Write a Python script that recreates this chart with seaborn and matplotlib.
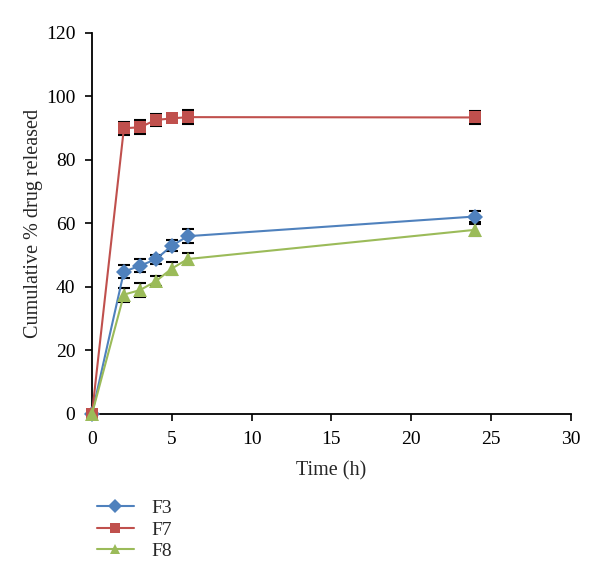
import numpy as np
import pandas as pd
import matplotlib
matplotlib.use("Agg")
import matplotlib.pyplot as plt
import seaborn as sns

# --- Data ---
TIME_H = [0, 2, 3, 4, 5, 6, 24]
F3 = [0, 44.8, 46.7, 48.7, 53.0, 56.0, 62.2]
F7 = [0, 90.0, 90.3, 92.6, 93.1, 93.5, 93.4]
F8 = [0, 37.6, 39.0, 41.8, 45.8, 48.8, 58.0]
F3_ERR = [0, 2.0, 2.0, 1.5, 1.8, 2.2, 1.8]
F7_ERR = [0, 2.0, 2.2, 1.8, 0.6, 2.2, 2.0]
F8_ERR = [0, 2.2, 2.2, 1.6, 2.0, 1.8, 1.8]

SERIES = ["F3", "F7", "F8"]
COLORS = {"F3": "#4F81BD", "F7": "#C0504D", "F8": "#9BBB59"}
MARKERS = {"F3": "D", "F7": "s", "F8": "^"}
MARKER_SIZES = {"F3": 8.5, "F7": 9, "F8": 10.5}

df = pd.concat([
    pd.DataFrame({"time": TIME_H, "release": vals, "err": errs, "form": name})
    for name, vals, errs in zip(SERIES, [F3, F7, F8], [F3_ERR, F7_ERR, F8_ERR])
], ignore_index=True)

sns.set_style("ticks")
plt.rcParams["font.family"] = ["Liberation Serif", "DejaVu Serif"]
plt.rcParams["font.size"] = 14

fig = plt.figure(figsize=(6.0, 5.82), dpi=100)
ax = fig.add_axes([0.1533, 0.2887, 0.798, 0.6546])

for name in SERIES:
    sub = df[df["form"] == name]
    ax.errorbar(sub["time"], sub["release"], yerr=sub["err"], fmt="none",
                ecolor="black", elinewidth=1.0, capsize=4, capthick=1.5, zorder=2)

n_before = len(ax.lines)
sns.lineplot(data=df, x="time", y="release", hue="form", style="form",
             palette=COLORS, markers=MARKERS, dashes=False, linewidth=1.5,
             markersize=9, markeredgewidth=0, ax=ax, zorder=3)

# per-series marker sizes (triangles look larger in the original)
series_lines = [l for l in ax.lines[n_before:] if len(l.get_xdata()) == len(TIME_H)]
for l, name in zip(series_lines, SERIES):
    l.set_markersize(MARKER_SIZES[name])
for l in ax.lines:
    l.set_clip_on(False)

ax.set_xlim(0, 30)
ax.set_ylim(0, 120)
ax.set_xticks(np.arange(0, 31, 5))
ax.set_yticks(np.arange(0, 121, 20))
ax.set_xlabel("Time (h)", fontsize=14.5, labelpad=10)
ax.set_ylabel("Cumulative % drug released", fontsize=14.5, labelpad=2)
ax.tick_params(direction="out", length=5, width=1.2, labelsize=14, pad=7, colors="black")
for s in ["left", "bottom"]:
    ax.spines[s].set_linewidth(1.3)
    ax.spines[s].set_color("black")
sns.despine(ax=ax)

handles, labels = ax.get_legend_handles_labels()
for h in handles:
    h.set_markersize(7)
ax.get_legend().remove()
fig.legend(handles, labels, loc="upper left", bbox_to_anchor=(0.148, 0.155),
           frameon=False, fontsize=14, handlelength=1.9, labelspacing=0.2,
           handletextpad=0.9, borderaxespad=0)

fig.savefig("out.png", dpi=100)
